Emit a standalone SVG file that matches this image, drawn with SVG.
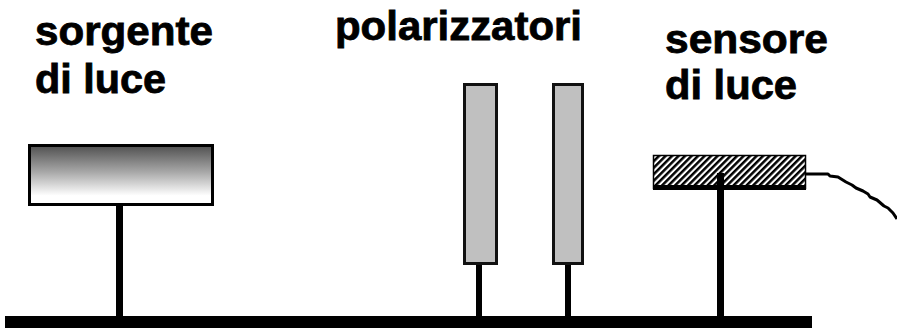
<svg xmlns="http://www.w3.org/2000/svg" width="897" height="328" viewBox="0 0 897 328">
  <style>
    .label { font-family: "Liberation Sans", Arial, sans-serif; font-weight: bold; font-size: 40px; fill: #000; stroke: #000; stroke-width: 0.8; }
    .post { fill: #000; }
    .polar { fill: #c0c0c0; stroke: #111; stroke-width: 3; }
  </style>
  <defs>
    <linearGradient id="lampFade" x1="0" y1="0" x2="0" y2="1">
      <stop offset="0" stop-color="#505050"/>
      <stop offset="0.45" stop-color="#a8a8a8"/>
      <stop offset="0.85" stop-color="#ffffff"/>
      <stop offset="1" stop-color="#ffffff"/>
    </linearGradient>
    <pattern id="hatch" patternUnits="userSpaceOnUse" width="4.6" height="4.6" patternTransform="rotate(45)">
      <rect width="4.6" height="4.6" fill="#fff"/>
      <rect width="2.5" height="4.6" fill="#000"/>
    </pattern>
  </defs>

  <!-- bench rail -->
  <g id="bench">
    <rect x="5" y="316" width="807" height="12" fill="#000"/>
  </g>

  <!-- light source on its stand -->
  <g id="source">
    <rect class="post" x="116" y="205" width="7" height="112"/>
    <rect x="29.5" y="145.5" width="183" height="59" fill="url(#lampFade)" stroke="#000" stroke-width="3"/>
    <text class="label" x="35" y="45" textLength="178" lengthAdjust="spacingAndGlyphs">sorgente</text>
    <text class="label" x="35" y="93" textLength="131" lengthAdjust="spacingAndGlyphs">di luce</text>
  </g>

  <!-- pair of polarizers -->
  <g id="polarizers">
    <rect class="post" x="476" y="264" width="6" height="53"/>
    <rect class="post" x="565" y="264" width="6" height="53"/>
    <rect class="polar" x="464.5" y="84.5" width="32" height="179"/>
    <rect class="polar" x="553.5" y="84.5" width="29" height="179"/>
    <text class="label" x="335" y="40" textLength="247" lengthAdjust="spacingAndGlyphs">polarizzatori</text>
  </g>

  <!-- light sensor on its stand -->
  <g id="sensor">
    <rect x="653.5" y="155.5" width="152" height="33" fill="url(#hatch)" stroke="#000" stroke-width="1.5"/>
    <rect x="653" y="185" width="153" height="5" fill="#000"/>
    <rect class="post" x="717" y="173" width="7" height="144"/>
    <text class="label" x="665" y="53" textLength="163" lengthAdjust="spacingAndGlyphs">sensore</text>
    <text class="label" x="665" y="99" textLength="132" lengthAdjust="spacingAndGlyphs">di luce</text>
  </g>

  <!-- sensor cable -->
  <g id="connectors">
    <polyline points="806,174 828,174 830,176 838,177 846,182 852,185 856,188 863,191 868,194 870,197 877,200 884,206 888,208 893,213 897,219" fill="none" stroke="#000" stroke-width="3" stroke-linejoin="round"/>
  </g>
</svg>
